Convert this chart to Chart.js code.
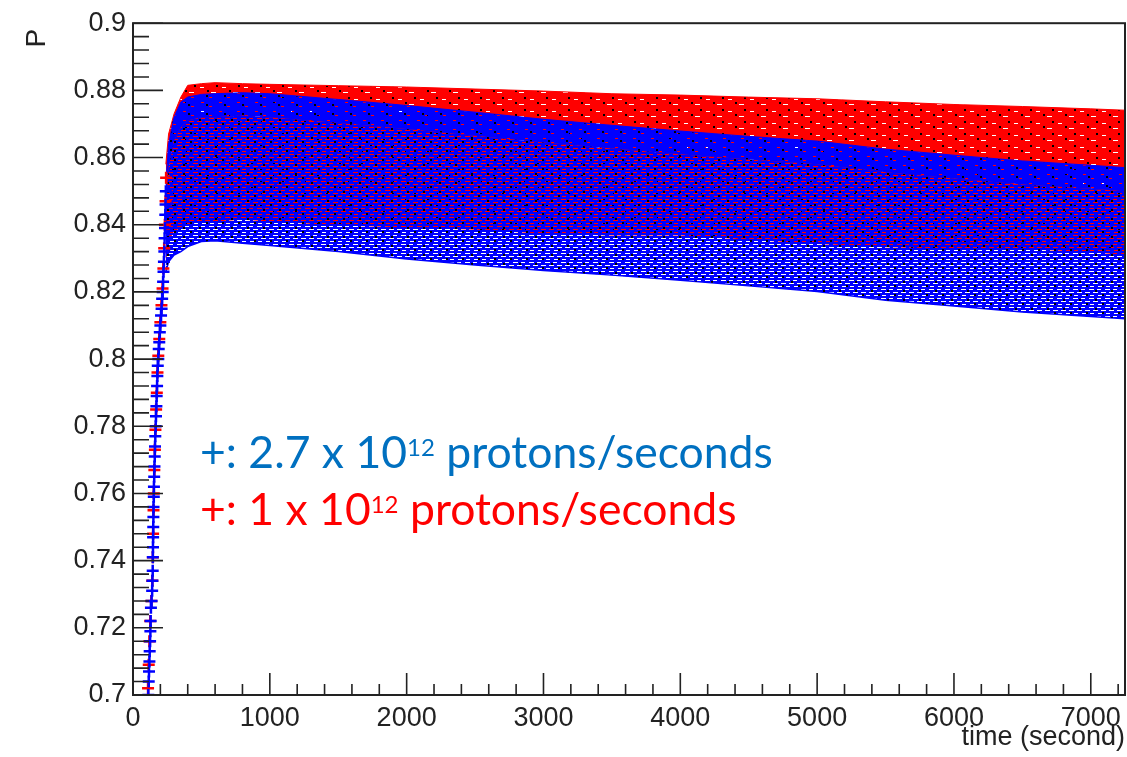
<!DOCTYPE html>
<html>
<head>
<meta charset="utf-8">
<script src="https://cdn.jsdelivr.net/npm/chart.js@4.4.1/dist/chart.umd.min.js"></script>
<style>
  html, body { margin: 0; padding: 0; background: #fff; }
  #wrap { position: relative; width: 1127px; height: 757px; overflow: hidden; }
  #plot { position: absolute; left: 0; top: 0; }
  .note { position: absolute; left: 200px; font-family: Lato, "Open Sans", sans-serif; font-size: 44.5px; line-height: 44px; white-space: nowrap; }
  .note .exp { font-size: 24px; position: relative; top: -12px; }
  #noteBlue { top: 429px; color: #0070C0; }
  #noteRed { top: 486px; color: #FF0000; }
</style>
</head>
<body>
<div id="wrap">
  <canvas id="plot" width="1127" height="757"></canvas>
  <div class="note" id="noteBlue">+: 2.7 x 10<span class="exp">12</span> protons/seconds</div>
  <div class="note" id="noteRed">+: 1 x 10<span class="exp">12</span> protons/seconds</div>
</div>
<script>
// ---- data ----

// the steep rise at the start, one marker per entry
const riseTimeBlue = [112, 115, 117, 120, 122, 125, 127, 129, 131, 136, 140, 142, 144, 145, 146, 147, 148, 149, 150, 152, 153, 155, 157, 159, 161, 163, 166, 168, 171, 173, 176, 178, 181, 185, 188, 192, 196, 200, 205, 209, 213, 217, 220, 223, 226, 229, 231, 234, 236, 238, 240];
const risePBlue = [0.700, 0.704, 0.707, 0.710, 0.713, 0.716, 0.719, 0.722, 0.726, 0.728, 0.731, 0.734, 0.737, 0.741, 0.744, 0.747, 0.750, 0.753, 0.756, 0.759, 0.762, 0.765, 0.768, 0.771, 0.774, 0.777, 0.780, 0.783, 0.786, 0.789, 0.792, 0.795, 0.798, 0.800, 0.803, 0.805, 0.808, 0.810, 0.813, 0.815, 0.818, 0.820, 0.823, 0.826, 0.829, 0.832, 0.836, 0.839, 0.843, 0.846, 0.850];
const riseTimeRed = [110, 115, 120, 126, 134, 141, 145, 147, 150, 152, 156, 160, 164, 169, 174, 179, 185, 192, 200, 208, 216, 222, 228, 233, 238, 242];
const risePRed = [0.702, 0.709, 0.716, 0.722, 0.728, 0.734, 0.741, 0.748, 0.755, 0.760, 0.767, 0.773, 0.779, 0.785, 0.790, 0.796, 0.801, 0.806, 0.811, 0.816, 0.821, 0.827, 0.833, 0.840, 0.847, 0.854];

// envelopes of the two clouds of markers after the rise
const bandTime = [240, 260, 300, 350, 400, 500, 600, 800, 1000, 1500, 2000, 2500, 3000, 3500, 4000, 4500, 5000, 5500, 6000, 6500, 7000, 7250];
const redTop = [0.858, 0.867, 0.873, 0.878, 0.8815, 0.882, 0.8823, 0.882, 0.8818, 0.8814, 0.881, 0.8804, 0.8798, 0.879, 0.8786, 0.878, 0.8775, 0.8766, 0.8758, 0.8752, 0.8745, 0.8741];
const redBottom = [0.828, 0.835, 0.838, 0.839, 0.840, 0.841, 0.841, 0.8415, 0.841, 0.8398, 0.8392, 0.8385, 0.8373, 0.8368, 0.8368, 0.8355, 0.8343, 0.8333, 0.8328, 0.8328, 0.8318, 0.831];
const blueTop = [0.852, 0.864, 0.872, 0.8765, 0.878, 0.8788, 0.879, 0.8793, 0.879, 0.8773, 0.8755, 0.8735, 0.8714, 0.8696, 0.8679, 0.8663, 0.8649, 0.8625, 0.8607, 0.859, 0.8577, 0.857];
const blueCore = [0.846, 0.857, 0.865, 0.869, 0.871, 0.872, 0.872, 0.8725, 0.872, 0.8703, 0.8685, 0.8665, 0.8645, 0.8627, 0.861, 0.8594, 0.858, 0.8556, 0.8538, 0.852, 0.8507, 0.85];
const blueBottom = [0.826, 0.829, 0.831, 0.832, 0.8335, 0.835, 0.8352, 0.8345, 0.8338, 0.832, 0.8298, 0.828, 0.8264, 0.825, 0.8235, 0.8218, 0.8201, 0.8175, 0.8158, 0.814, 0.8127, 0.812];

// labelled ticks
const xTickValues = [0, 1000, 2000, 3000, 4000, 5000, 6000, 7000];
const yTickValues = [0.7, 0.72, 0.74, 0.76, 0.78, 0.8, 0.82, 0.84, 0.86, 0.88, 0.9];

const BLUE = '#0000ff';
const RED = '#ff0000';
const AXIS = '#222';
const FONT = "'Liberation Sans', Arial, sans-serif";

const canvas = document.getElementById('plot');
const ctx = canvas.getContext('2d');

// small tiles that imitate the packed "+" markers (dashes and marker centres)
function makePattern(w, h, base, gaps, dots) {
  const tile = document.createElement('canvas');
  tile.width = w;
  tile.height = h;
  const g = tile.getContext('2d');
  g.fillStyle = base;
  g.fillRect(0, 0, w, h);
  gaps.forEach(([gx, gy, gw, col]) => {
    if (col) {
      g.fillStyle = col;
      g.fillRect(gx, gy, gw, 1);
    } else {
      g.clearRect(gx, gy, gw, 1);
    }
  });
  g.fillStyle = '#000';
  dots.forEach(([dx, dy]) => g.fillRect(dx, dy, 2, 2));
  return ctx.createPattern(tile, 'repeat');
}

const redFill = makePattern(22, 12, RED, [[2, 3, 4, '#fff'], [13, 8, 5, '#fff']], [[9, 6], [18, 1]]);
const blueCoreFill = makePattern(18, 9, BLUE, [[3, 3, 3], [11, 7, 3]], [[8, 5]]);
const blueMidFill = makePattern(16, 9, BLUE, [[1, 1, 5], [9, 1, 4], [5, 4, 5], [13, 4, 3], [0, 4, 2], [2, 7, 4], [10, 7, 5]], [[7, 2], [14, 6]]);

const toPoints = (xs, ys) => xs.map((x, i) => ({ x: x, y: ys[i] }));

// ROOT style frame with inward ticks
const frameAndTicks = {
  id: 'frameAndTicks',
  afterDatasetsDraw(chart) {
    const { ctx, chartArea: a, scales: { x, y } } = chart;
    ctx.save();
    ctx.strokeStyle = AXIS;
    ctx.lineWidth = 1.6;
    ctx.beginPath();
    for (let k = 0; k <= 50; k++) {
      const py = y.getPixelForValue(0.7 + k * 0.004);
      const len = k % 5 === 0 ? 30 : 16;
      ctx.moveTo(a.left, py);
      ctx.lineTo(a.left + len, py);
    }
    for (let k = 1; k <= 36; k++) {
      const px = x.getPixelForValue(k * 200);
      const len = k % 5 === 0 ? 22 : 11;
      ctx.moveTo(px, a.bottom);
      ctx.lineTo(px, a.bottom - len);
    }
    ctx.stroke();
    ctx.lineWidth = 2;
    ctx.strokeRect(a.left, a.top, a.right - a.left, a.bottom - a.top);
    ctx.restore();
  }
};

const riseStyle = (color) => ({
  showLine: false,
  pointStyle: 'cross',
  pointRadius: 6,
  pointBorderWidth: 2.5,
  borderColor: color,
  backgroundColor: color
});

const chart = new Chart(ctx, {
  type: 'line',
  data: {
    datasets: [
      Object.assign({ label: 'rise 2.7e12', data: toPoints(riseTimeBlue, risePBlue) }, riseStyle(BLUE)),
      Object.assign({ label: 'rise 1e12', data: toPoints(riseTimeRed, risePRed) }, riseStyle(RED)),
      {
        label: '2.7e12 top',
        data: toPoints(bandTime, blueTop),
        borderColor: BLUE,
        borderWidth: 1,
        pointRadius: 0,
        fill: '+1',
        backgroundColor: blueCoreFill
      },
      {
        label: '2.7e12 core',
        data: toPoints(bandTime, blueCore),
        borderColor: 'rgba(0,0,0,0)',
        borderWidth: 1,
        pointRadius: 0,
        fill: '+1',
        backgroundColor: blueMidFill
      },
      {
        label: '2.7e12 bottom',
        data: toPoints(bandTime, blueBottom),
        borderColor: BLUE,
        borderWidth: 1.5,
        pointRadius: 0,
        fill: false
      },
      {
        label: '1e12 top',
        data: toPoints(bandTime, redTop),
        borderColor: RED,
        borderWidth: 1,
        pointRadius: 0,
        fill: '+1',
        backgroundColor: redFill
      },
      {
        label: '1e12 bottom',
        data: toPoints(bandTime, redBottom),
        borderColor: 'rgba(0,0,0,0)',
        borderWidth: 1,
        pointRadius: 0,
        fill: false
      }
    ]
  },
  options: {
    responsive: false,
    animation: false,
    events: [],
    layout: { autoPadding: false, padding: { left: 0, top: 20, right: 2, bottom: 0 } },
    elements: { line: { tension: 0 } },
    plugins: {
      legend: { display: false },
      tooltip: { enabled: false }
    },
    scales: {
      x: {
        type: 'linear',
        min: 0,
        max: 7250,
        grid: { display: false, drawTicks: false },
        border: { display: false },
        afterBuildTicks(scale) { scale.ticks = xTickValues.map(v => ({ value: v })); },
        ticks: {
          maxRotation: 0,
          autoSkip: false,
          padding: 7,
          color: AXIS,
          font: { family: FONT, size: 27 },
          callback: (v) => String(v)
        },
        title: {
          display: true,
          text: 'time (second)',
          align: 'end',
          color: AXIS,
          font: { family: FONT, size: 27 },
          padding: { top: 0, bottom: 3 }
        },
        afterFit(scale) {
          scale.height = 62;
          scale.paddingLeft = 0;
          scale.paddingRight = 0;
        }
      },
      y: {
        type: 'linear',
        min: 0.7,
        max: 0.9,
        grid: { display: false, drawTicks: false },
        border: { display: false },
        afterBuildTicks(scale) { scale.ticks = yTickValues.map(v => ({ value: v })); },
        ticks: {
          autoSkip: false,
          padding: 7,
          color: AXIS,
          font: { family: FONT, size: 27 },
          callback: (v) => String(+v.toFixed(2))
        },
        title: {
          display: true,
          text: 'P\u2009',
          align: 'end',
          color: AXIS,
          font: { family: FONT, size: 28 },
          padding: { top: 20, bottom: 0 }
        },
        afterFit(scale) { scale.width = 133; }
      }
    }
  },
  plugins: [frameAndTicks]
});
</script>
</body>
</html>
